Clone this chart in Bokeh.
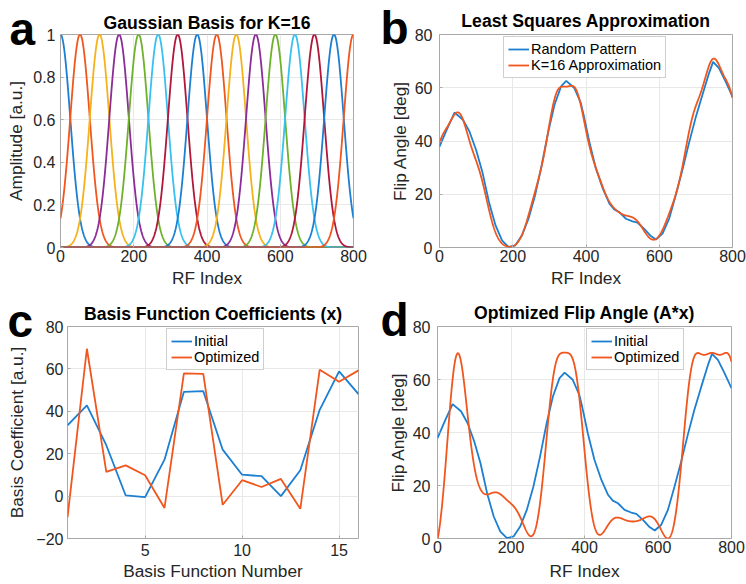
import numpy as np
from bokeh.plotting import figure
from bokeh.models import Range1d, Title, Legend, LegendItem, FixedTicker
from bokeh.layouts import row, column
from bokeh.embed import file_html
from bokeh.resources import INLINE

FONT = "Liberation Sans"

# ---------------- data ----------------
basis_centers = [0, 53.3, 106.7, 160, 213.3, 266.7, 320, 373.3,
                 426.7, 480, 533.3, 586.7, 640, 693.3, 746.7, 800]
basis_sigma = 26.7
rf_index = np.arange(0, 801)

coef_number = list(range(1, 17))
coef_initial = [33.4, 42.8, 24.0, 0.3, -0.5, 17.2, 49.2, 49.5,
                21.9, 10.1, 9.4, 0.0, 12.2, 40.7, 58.8, 48.1]
coef_optimized = [-10.0, 69.5, 11.4, 14.5, 9.8, -5.6, 57.9, 57.7,
                  -4.1, 7.5, 4.3, 8.1, -6.0, 59.6, 53.9, 59.3]

random_x = [0, 19, 41, 64, 82, 100, 117, 135, 153, 171, 189, 207, 225, 243,
            261, 279, 297, 314, 332, 346, 368, 386, 394, 409, 427, 446, 464,
            477, 491, 509, 527, 541, 559, 577, 591, 609, 627, 645, 663, 681,
            699, 718, 736, 747, 763, 781, 800]
random_y = [37.9, 44.0, 50.7, 48.0, 43.5, 36.6, 28.4, 17.1, 8.3, 2.6, 0.1,
            0.8, 4.5, 10.8, 19.6, 30.9, 43.5, 53.6, 60.5, 62.6, 59.9, 54.2,
            49.5, 39.7, 29.7, 22.1, 16.5, 14.3, 13.3, 10.8, 9.8, 9.3, 7.0,
            4.3, 3.0, 5.2, 10.8, 19.6, 29.0, 39.1, 48.6, 57.4, 65.5, 69.7,
            67.4, 62.4, 56.7]

basis_colors = ["#1C7FD1", "#F0561D", "#F5B21A", "#8B2C99",
                "#6EB12A", "#37C0F0", "#B0173B"]
BLUE = basis_colors[0]
ORANGE = basis_colors[1]

# Gaussian basis matrix A (rows: RF index, columns: basis functions)
A = np.exp(-((rf_index[:, None] - np.array(basis_centers)[None, :]) ** 2)
           / (2 * basis_sigma ** 2))
approx_initial = A @ np.array(coef_initial)
approx_optimized = A @ np.array(coef_optimized)


# ---------------- helpers ----------------
def main_title(text, standoff):
    return Title(text=text, align="center", standoff=standoff,
                 vertical_align="bottom", text_font=FONT,
                 text_font_size="17.6px", text_font_style="bold",
                 text_color="#000000")


def letter_title(text, offset, standoff):
    return Title(text=text, align="left", offset=offset, standoff=standoff,
                 vertical_align="top", text_font=FONT, text_font_size="46px",
                 text_font_style="bold", text_color="#000000")


def make_fig(bl, br, bt, bb, xr, yr, xlabel, ylabel, xticks, yticks,
             x_std, x_lab_std, y_std, y_lab_std):
    p = figure(width=373, height=292, output_backend="svg",
               toolbar_location=None, title=None,
               x_range=Range1d(*xr), y_range=Range1d(*yr),
               min_border_left=bl, min_border_right=br,
               min_border_top=bt, min_border_bottom=bb)
    p.outline_line_color = "#a8a8a8"
    p.outline_line_width = 1
    p.xaxis.ticker = FixedTicker(ticks=xticks)
    p.yaxis.ticker = FixedTicker(ticks=yticks)
    for ax, lab in ((p.xaxis, xlabel), (p.yaxis, ylabel)):
        ax.axis_label = lab
        ax.axis_label_text_font = FONT
        ax.axis_label_text_font_size = "17.3px"
        ax.axis_label_text_font_style = "normal"
        ax.axis_label_text_color = "#262626"
        ax.major_label_text_font = FONT
        ax.major_label_text_font_size = "16px"
        ax.major_label_text_color = "#262626"
        ax.axis_line_color = None
        ax.major_tick_in = 3
        ax.major_tick_out = 0
        ax.major_tick_line_color = "#a8a8a8"
        ax.minor_tick_line_color = None
    p.xaxis.major_label_standoff = x_std
    p.xaxis.axis_label_standoff = x_lab_std
    p.yaxis.major_label_standoff = y_std
    p.yaxis.axis_label_standoff = y_lab_std
    p.xgrid.grid_line_color = "#e8e8e8"
    p.ygrid.grid_line_color = "#e8e8e8"
    p.background_fill_color = "white"
    p.border_fill_color = "white"
    return p


def add_legend(p, renderers, labels, x, y):
    items = [LegendItem(label=l, renderers=[r]) for l, r in zip(labels, renderers)]
    leg = Legend(items=items, location=(x, y))
    leg.label_text_font = FONT
    leg.label_text_font_size = "14.5px"
    leg.label_text_color = "#000000"
    leg.label_height = 16
    leg.label_standoff = 2
    leg.glyph_width = 21
    leg.glyph_height = 16
    leg.padding = 4
    leg.spacing = 0
    leg.margin = 0
    leg.border_line_color = "#a0a0a0"
    leg.border_line_width = 1
    leg.background_fill_alpha = 1
    p.add_layout(leg)


LW = 1.8

# ---------------- panel a ----------------
fa = make_fig(60, 20, 33, 45, (0, 800), (0, 1), "RF Index", "Amplitude [a.u.]",
              [0, 200, 400, 600, 800], [0, 0.2, 0.4, 0.6, 0.8, 1], 2, 3, 5, 4)
fa.yaxis.major_label_overrides = {0: "0", 1: "1"}
for k in range(len(basis_centers)):
    fa.line(rf_index, A[:, k], line_color=basis_colors[k % 7], line_width=LW)
fa.add_layout(letter_title("a", -51, -43.6), "above")
fa.title = main_title("Gaussian Basis for K=16", -17)

# ---------------- panel b ----------------
fb = make_fig(66, 14, 34, 45, (0, 800), (0, 80), "RF Index", "Flip Angle [deg]",
              [0, 200, 400, 600, 800], [0, 20, 40, 60, 80], 2, 3, 7, 2)
rb1 = fb.line(random_x, random_y, line_color=BLUE, line_width=LW)
rb2 = fb.line(rf_index, approx_initial, line_color=ORANGE, line_width=LW)
add_legend(fb, [rb1, rb2], ["Random Pattern", "K=16 Approximation"], 64, 169)
fb.add_layout(letter_title("b", -59, -41.6), "above")
fb.title = main_title("Least Squares Approximation", -17.4)

# ---------------- panel c ----------------
fc = make_fig(67, 15, 33, 46, (1, 16), (-20, 80), "Basis Function Number",
              "Basis Coefficient [a.u.]", [5, 10, 15],
              [-20, 0, 20, 40, 60, 80], 5, 2, 4, 6)
rc1 = fc.line(coef_number, coef_initial, line_color=BLUE, line_width=LW)
rc2 = fc.line(coef_number, coef_optimized, line_color=ORANGE, line_width=LW)
add_legend(fc, [rc1, rc2], ["Initial", "Optimized"], 99, 168)
fc.add_layout(letter_title("c", -60, -43.6), "above")
fc.title = main_title("Basis Function Coefficients (x)", -14.8)

# ---------------- panel d ----------------
fd = make_fig(64, 15, 34, 46, (0, 800), (0, 80), "RF Index", "Flip Angle [deg]",
              [0, 200, 400, 600, 800], [0, 20, 40, 60, 80], 2, 5, 7, 2)
rd1 = fd.line(random_x, random_y, line_color=BLUE, line_width=LW)
rd2 = fd.line(rf_index, approx_optimized, line_color=ORANGE, line_width=LW)
add_legend(fd, [rd1, rd2], ["Initial", "Optimized"], 149, 168)
fd.add_layout(letter_title("d", -57, -41.6), "above")
fd.title = main_title("Optimized Flip Angle (A*x)", -16.8)

layout = column(row(fa, fb), row(fc, fd))
open("out.html", "w").write(file_html(layout, INLINE))
